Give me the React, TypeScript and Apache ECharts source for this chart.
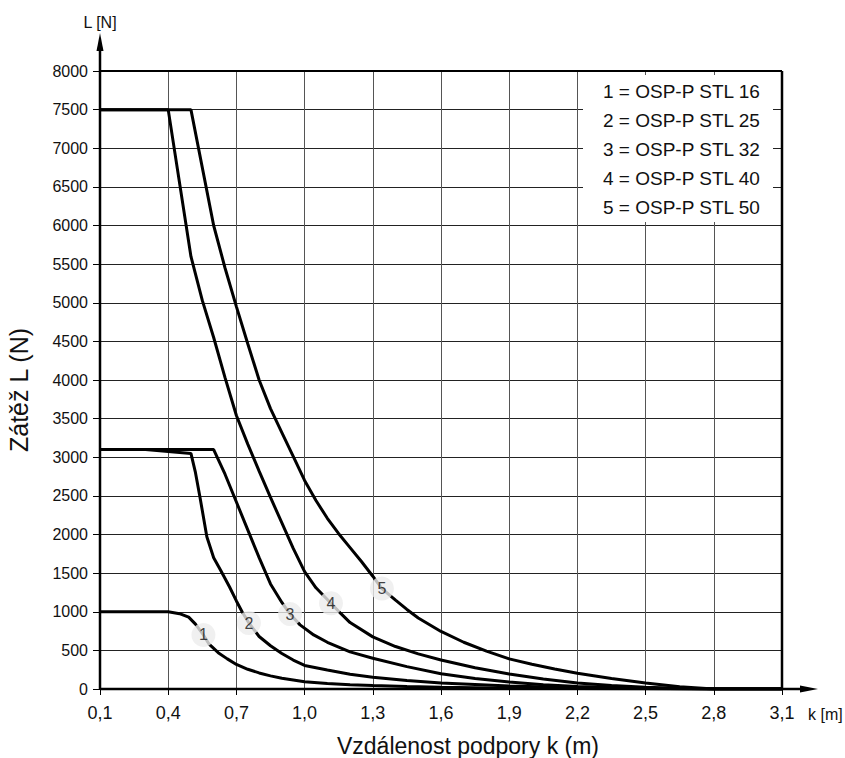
import React, { useEffect, useRef } from "react";
import * as echarts from "echarts";

// ---- axis settings ----
const X_MIN = 0.1;
const X_MAX = 3.1;
const X_STEP = 0.3;
const Y_MIN = 0;
const Y_MAX = 8000;
const Y_STEP = 500;

// ---- texts ----
const xTitle = "Vzdálenost podpory k (m)";
const yTitle = "Zátěž L (N)";
const xUnit = "k [m]";
const yUnit = "L [N]";
const legendLines = [
  "1 = OSP-P STL 16",
  "2 = OSP-P STL 25",
  "3 = OSP-P STL 32",
  "4 = OSP-P STL 40",
  "5 = OSP-P STL 50",
];
const curveIds = ["1", "2", "3", "4", "5"];

// ---- series values [k (m), L (N)] ----
const stl16: [number, number][] = [
  [0.1, 1000], [0.4, 1000], [0.45, 975], [0.49, 930], [0.52, 840], [0.555, 700],
  [0.58, 580], [0.62, 470], [0.66, 390], [0.7, 318], [0.75, 255], [0.8, 208],
  [0.85, 170], [0.9, 138], [1.0, 95], [1.1, 70], [1.2, 55], [1.3, 45],
  [1.45, 32], [1.6, 22], [1.9, 11], [2.2, 5], [2.5, 2], [2.8, 0], [3.1, 0],
];
const stl25: [number, number][] = [
  [0.1, 3100], [0.3, 3100], [0.5, 3050], [0.52, 2800], [0.54, 2480], [0.57, 1970],
  [0.6, 1700], [0.63, 1540], [0.67, 1320], [0.7, 1140], [0.725, 1000], [0.755, 854],
  [0.8, 680], [0.85, 560], [0.9, 460], [0.95, 375], [1.0, 305], [1.1, 245],
  [1.2, 190], [1.3, 152], [1.45, 110], [1.6, 78], [1.9, 38], [2.2, 15],
  [2.5, 5], [2.8, 0], [3.1, 0],
];
const stl32: [number, number][] = [
  [0.1, 3100], [0.6, 3100], [0.65, 2780], [0.7, 2420], [0.75, 2060], [0.8, 1700],
  [0.85, 1360], [0.9, 1120], [0.936, 970], [0.98, 830], [1.04, 700], [1.1, 605],
  [1.2, 480], [1.3, 398], [1.45, 290], [1.6, 198], [1.75, 135], [1.9, 90],
  [2.05, 55], [2.2, 32], [2.5, 10], [2.8, 0], [3.1, 0],
];
const stl40: [number, number][] = [
  [0.1, 7500], [0.4, 7500], [0.5, 5600], [0.55, 5030], [0.6, 4550], [0.65, 4030],
  [0.7, 3540], [0.75, 3170], [0.8, 2820], [0.85, 2480], [0.9, 2150], [0.95, 1820],
  [1.0, 1520], [1.05, 1310], [1.116, 1110], [1.16, 975], [1.2, 860], [1.3, 675],
  [1.4, 550], [1.5, 455], [1.6, 375], [1.75, 275], [1.9, 194], [2.05, 130],
  [2.2, 78], [2.35, 45], [2.5, 24], [2.65, 9], [2.8, 0], [3.1, 0],
];
const stl50: [number, number][] = [
  [0.1, 7500], [0.5, 7500], [0.6, 6000], [0.65, 5450], [0.7, 4950], [0.75, 4470],
  [0.8, 4000], [0.85, 3630], [0.9, 3320], [0.95, 3010], [1.0, 2700], [1.05, 2440],
  [1.1, 2210], [1.15, 2010], [1.2, 1830], [1.25, 1650], [1.3, 1460], [1.34, 1300],
  [1.4, 1150], [1.45, 1030], [1.5, 920], [1.6, 745], [1.7, 605], [1.8, 490],
  [1.9, 390], [2.0, 320], [2.1, 260], [2.2, 205], [2.35, 135], [2.5, 78],
  [2.65, 30], [2.8, 0], [3.1, 0],
];
const curves = [stl16, stl25, stl32, stl40, stl50];

// positions of the numbered bubbles on the curves
const bubblePoints: [number, number][] = [
  [0.555, 700], [0.755, 854], [0.936, 970], [1.116, 1110], [1.34, 1300],
];

const FONT = "'Liberation Sans', Arial, Helvetica, sans-serif";
const NARROW = "'Liberation Sans Narrow', 'Arial Narrow', 'Liberation Sans', Arial, sans-serif";

export default function App() {
  const ref = useRef<HTMLDivElement>(null);
  useEffect(() => {
    document.body.style.margin = "0";
    const chart = echarts.init(ref.current!, null, { renderer: "svg" });
    const GL = 100, GT = 71, GR = 782, GB = 689;

    const lineSeries = curves.map((data, i) => ({
      type: "line",
      name: legendLines[i],
      data,
      showSymbol: false,
      symbol: "none",
      lineStyle: { color: "#000", width: 3 },
      z: 3,
    }));

    chart.setOption({
      animation: false,
      backgroundColor: "#fff",
      grid: {
        left: GL, top: GT, right: 845 - GR, bottom: 758 - GB,
        containLabel: false, outerBoundsMode: "none",
      },
      xAxis: {
        type: "value",
        min: X_MIN,
        max: X_MAX,
        interval: X_STEP,
        axisLine: { show: false },
        axisTick: { show: true, length: 6, lineStyle: { color: "#000", width: 1 } },
        axisLabel: {
          margin: 15,
          fontFamily: NARROW,
          fontSize: 18,
          color: "#111",
          formatter: (v: number) => v.toFixed(1).replace(".", ","),
        },
        splitLine: { show: true, lineStyle: { color: "#555", width: 1 } },
      },
      yAxis: {
        type: "value",
        min: Y_MIN,
        max: Y_MAX,
        interval: Y_STEP,
        axisLine: { show: false },
        axisTick: { show: true, length: 7, lineStyle: { color: "#000", width: 1 } },
        axisLabel: {
          margin: 12, fontFamily: FONT, fontSize: 16, color: "#111",
          formatter: (v: number) => String(v),
        },
        splitLine: { show: true, lineStyle: { color: "#222", width: 1 } },
      },
      series: [
        ...lineSeries,
        {
          type: "scatter",
          data: bubblePoints,
          symbol: "circle",
          symbolSize: 24,
          itemStyle: { color: "#ececec" },
          label: {
            show: true,
            position: "inside",
            formatter: (p: any) => curveIds[p.dataIndex],
            fontFamily: FONT,
            fontSize: 16,
            color: "#111",
          },
          z: 5,
        },
      ],
      graphic: [
        // legend box
        { type: "rect", z: 100, shape: { x: 583, y: 75, width: 190, height: 147 }, style: { fill: "#fff" } },
        ...legendLines.map((t, i) => ({
          type: "text",
          z: 101,
          x: 603,
          y: 91 + i * 29,
          style: { text: t, fill: "#111", font: `19px ${FONT}`, verticalAlign: "middle" },
        })),
        // frame and axes
        { type: "line", z: 50, shape: { x1: GL, y1: GT, x2: GR, y2: GT }, style: { stroke: "#000", lineWidth: 2 } },
        { type: "line", z: 50, shape: { x1: GR, y1: GT, x2: GR, y2: GB }, style: { stroke: "#000", lineWidth: 2.5 } },
        { type: "line", z: 50, shape: { x1: GL, y1: GB, x2: 804, y2: GB }, style: { stroke: "#000", lineWidth: 2.5 } },
        { type: "polygon", z: 50, shape: { points: [[818, GB], [800, GB - 3.5], [800, GB + 3.5]] }, style: { fill: "#000" } },
        { type: "line", z: 50, shape: { x1: GL, y1: GB, x2: GL, y2: 48 }, style: { stroke: "#000", lineWidth: 2.5 } },
        { type: "polygon", z: 50, shape: { points: [[GL, 33], [GL - 3.5, 51], [GL + 3.5, 51]] }, style: { fill: "#000" } },
        {
          type: "text", z: 50, x: GL, y: 22,
          style: { text: yUnit, fill: "#111", font: `16px ${NARROW}`, align: "center", verticalAlign: "middle" },
        },
        {
          type: "text", z: 50, x: 808, y: 714,
          style: { text: xUnit, fill: "#111", font: `16px ${NARROW}`, align: "left", verticalAlign: "middle" },
        },
        // axis titles
        {
          type: "text", z: 50, x: 468, y: 746,
          style: { text: xTitle, fill: "#111", font: `23px ${FONT}`, align: "center", verticalAlign: "middle" },
        },
        {
          type: "text", z: 50, x: 19, y: 390, rotation: Math.PI / 2,
          style: { text: yTitle, fill: "#111", font: `25px ${FONT}`, align: "center", verticalAlign: "middle" },
        },
      ],
    });
    return () => chart.dispose();
  }, []);
  return <div ref={ref} style={{ width: 845, height: 758 }} />;
}
